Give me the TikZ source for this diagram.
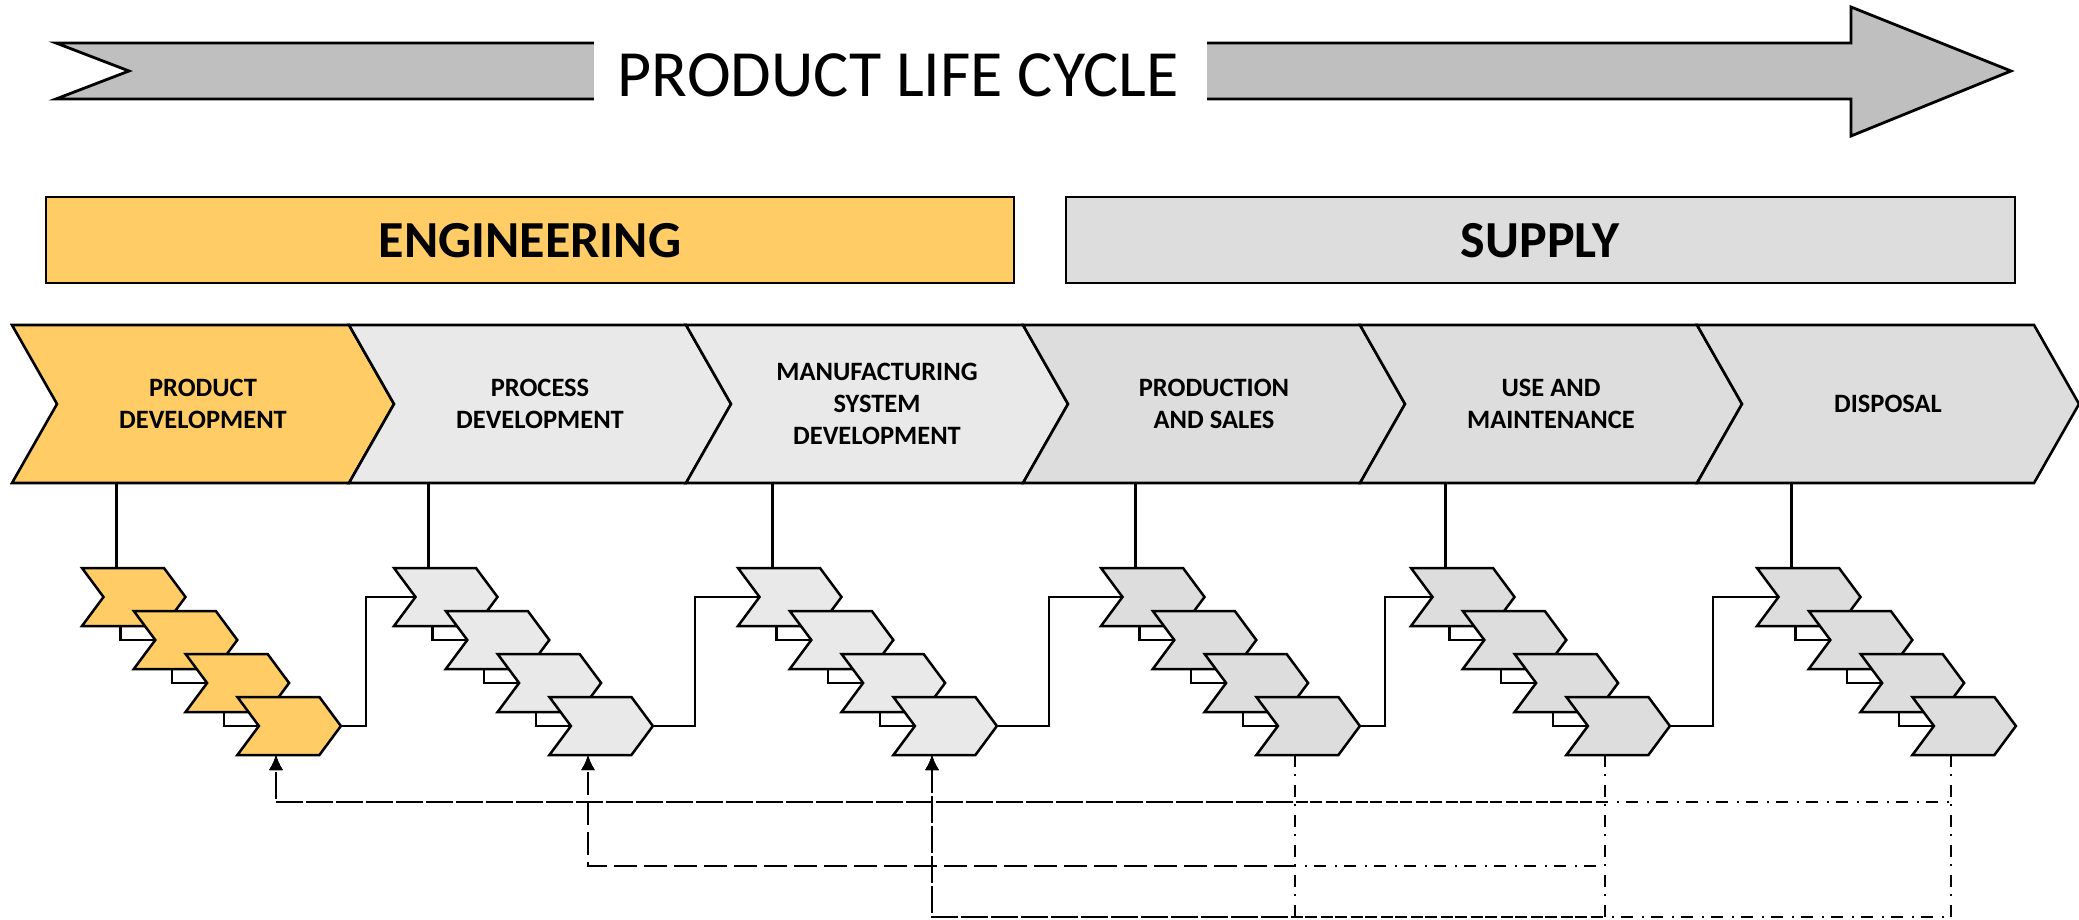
\documentclass[tikz,border=0pt]{standalone}
\usepackage{fontspec}
\setmainfont{Carlito}
\usetikzlibrary{arrows.meta}
\definecolor{engfill}{HTML}{FFCC66}
\definecolor{procfill}{HTML}{E9E9E9}
\definecolor{supfill}{HTML}{DDDDDD}
\definecolor{arrowfill}{HTML}{BFBFBF}
\newcommand{\chevron}[6]{\filldraw[#6] (#1,#2) -- ++(#3,0) -- ++(#5,#4/2) -- ++(-#5,#4/2) -- ++(-#3,0) -- ++(#5,-#4/2) -- cycle;}
\begin{document}
\begin{tikzpicture}[x=1pt,y=-1pt,
  bigchev/.style={draw=black,line width=2.6pt,line join=miter},
  smallchev/.style={draw=black,line width=2.5pt,line join=miter},
  conn/.style={draw=black,line width=2.3pt},
  fb/.style={draw=black,line width=2.4pt,dash pattern=on 12pt off 7pt on 2pt off 9pt,-{Latex[length=15pt,width=14pt]}},
  bigtext/.style={font=\bfseries\fontsize{26.5}{32}\selectfont,align=center,inner sep=0pt},
  boxtext/.style={font=\bfseries\fontsize{52}{60}\selectfont,inner sep=0pt,anchor=base},
  phasebox/.style={draw=black,line width=2.4pt}]
\useasboundingbox (0,0) rectangle (2079,920);
\fill[white] (0,0) rectangle (2079,920);
% top arrow
\filldraw[fill=arrowfill,draw=black,line width=2.8pt,line join=miter]
  (56,43) -- (1851,43) -- (1851,7) -- (2011,71) -- (1851,136) -- (1851,99) -- (56,99) -- (129,71) -- cycle;
\fill[white] (594,38) rectangle (1207,104);
\node[font=\fontsize{66}{78}\selectfont,inner sep=0pt,anchor=base] (title) at (898,97) {PRODUCT LIFE CYCLE};
% phase boxes
\filldraw[phasebox,fill=engfill] (46,197) rectangle (1014,283);
\node[boxtext] (eng) at (530,257) {ENGINEERING};
\filldraw[phasebox,fill=supfill] (1066,197) rectangle (2015,283);
\node[boxtext] (sup) at (1540,257) {SUPPLY};
% big chevrons
\foreach \i/\c in {0/engfill,1/procfill,2/procfill,3/supfill,4/supfill,5/supfill}{
  \chevron{12+337*\i}{325}{337}{158}{45}{bigchev,fill=\c}
}
\node[bigtext] (t1) at (12+191,404) {PRODUCT\\DEVELOPMENT};
\node[bigtext] (t2) at (349+191,404) {PROCESS\\DEVELOPMENT};
\node[bigtext] (t3) at (686+191,404) {MANUFACTURING\\SYSTEM\\DEVELOPMENT};
\node[bigtext] (t4) at (1023+191,404) {PRODUCTION\\AND SALES};
\node[bigtext] (t5) at (1360+191,404) {USE AND\\MAINTENANCE};
\node[bigtext] (t6) at (1697+191,404) {DISPOSAL};
% stacks of small chevrons
\foreach \k/\xo/\c in {1/82/engfill,2/394/procfill,3/738/procfill,4/1101/supfill,5/1411/supfill,6/1757/supfill}{
  \coordinate (bb\k) at (\xo+34.5,483);
  \coordinate (top\k) at (\xo+34.5,568);
  \coordinate (bot\k) at (\xo+194,755);
  \coordinate (tip\k) at (\xo+155.4+82+21.5,726);
  \coordinate (notch\k) at (\xo+21.5,597);
  \draw[conn] (bb\k) -- (top\k);
  \foreach \j in {0,1,2}{
    \coordinate (sb\k\j) at (\xo+38.5+51.8*\j,626+43*\j);
    \coordinate (sn\k\j) at (\xo+51.8*\j+51.8+21.5,640+43*\j);
    \draw[conn] (sb\k\j) |- (sn\k\j);
  }
  \foreach \j in {0,1,2,3}{
    \chevron{\xo+51.8*\j}{568+43*\j}{82}{58}{21.5}{smallchev,fill=\c}
  }
}
% links between stacks
\coordinate (v1) at (366,597);
\coordinate (v2) at (695,597);
\coordinate (v3) at (1049,597);
\coordinate (v4) at (1385,597);
\coordinate (v5) at (1713,597);
\draw[conn] (tip1) -| (v1) -- (notch2);
\draw[conn] (tip2) -| (v2) -- (notch3);
\draw[conn] (tip3) -| (v3) -- (notch4);
\draw[conn] (tip4) -| (v4) -- (notch5);
\draw[conn] (tip5) -| (v5) -- (notch6);
% feedback lines
\coordinate (lvl1) at (0,802);
\coordinate (lvl2) at (0,866);
\coordinate (lvl3) at (0,917);
\foreach \s/\e in {4/1,5/1,6/1,4/2,5/2,4/3,5/3,6/3}{
  \draw[fb] (bot\s) -- (bot\s |- lvl\e) -- (bot\e |- lvl\e) -- (bot\e);
}
\end{tikzpicture}
\end{document}
